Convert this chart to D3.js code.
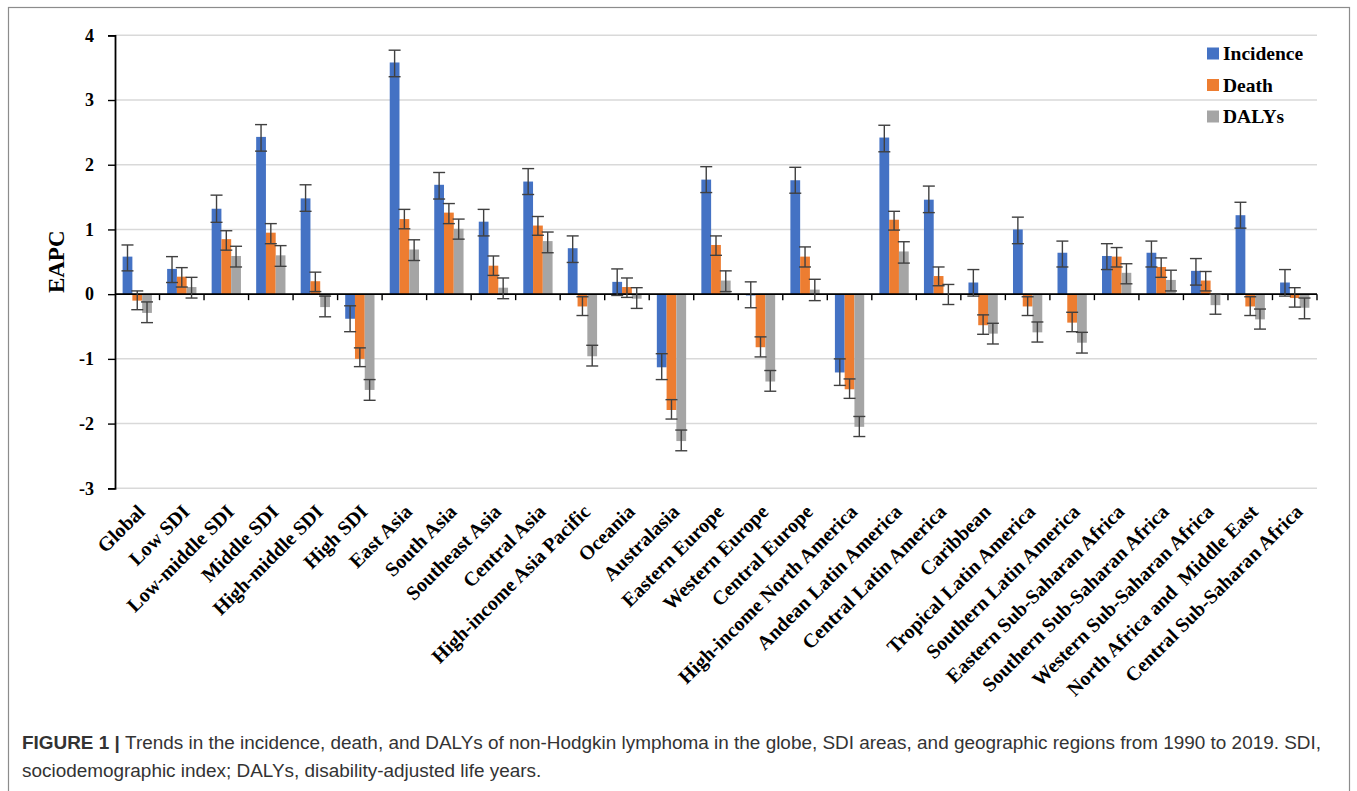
<!DOCTYPE html>
<html>
<head>
<meta charset="utf-8">
<script src="https://cdn.jsdelivr.net/npm/d3@7"></script>
<style>
  html, body { margin: 0; padding: 0; background: #fff; }
  svg { display: block; }
</style>
</head>
<body>
<svg id="chart" width="1357" height="791"></svg>
<script>
const categories = ["Global", "Low SDI", "Low-middle SDI", "Middle SDI", "High-middle SDI", "High SDI",
  "East Asia", "South Asia", "Southeast Asia", "Central Asia", "High-income Asia Pacific", "Oceania",
  "Australasia", "Eastern Europe", "Western Europe", "Central Europe", "High-income North America",
  "Andean Latin America", "Central Latin America", "Caribbean", "Tropical Latin America",
  "Southern Latin America", "Eastern Sub-Saharan Africa", "Southern Sub-Saharan Africa",
  "Western Sub-Saharan Africa", "North Africa and  Middle East", "Central Sub-Saharan Africa"];

const seriesNames = ["Incidence", "Death", "DALYs"];

const incidence = [0.58, 0.39, 1.32, 2.43, 1.48, -0.38, 3.58, 1.69, 1.12, 1.74, 0.71, 0.19, -1.13, 1.77, -0.02, 1.76, -1.21, 2.42, 1.46, 0.18, 1.00, 0.64, 0.59, 0.64, 0.36, 1.22, 0.18];
const incidenceLow = [0.36, 0.18, 1.11, 2.21, 1.28, -0.58, 3.36, 1.47, 0.90, 1.54, 0.49, -0.02, -1.32, 1.57, -0.21, 1.56, -1.41, 2.20, 1.26, -0.03, 0.78, 0.42, 0.38, 0.42, 0.14, 1.02, -0.03];
const incidenceHigh = [0.76, 0.58, 1.53, 2.62, 1.69, -0.18, 3.77, 1.88, 1.31, 1.94, 0.90, 0.39, -0.92, 1.97, 0.19, 1.96, -1.00, 2.61, 1.67, 0.38, 1.19, 0.82, 0.78, 0.82, 0.55, 1.42, 0.38];

const death = [-0.10, 0.27, 0.85, 0.95, 0.20, -1.00, 1.16, 1.26, 0.44, 1.06, -0.19, 0.11, -1.79, 0.76, -0.82, 0.58, -1.47, 1.15, 0.28, -0.48, -0.19, -0.44, 0.58, 0.42, 0.21, -0.19, -0.06];
const deathLow = [-0.24, 0.11, 0.68, 0.78, 0.04, -1.12, 1.01, 1.09, 0.29, 0.91, -0.33, -0.05, -1.93, 0.60, -0.97, 0.42, -1.61, 0.99, 0.13, -0.62, -0.33, -0.58, 0.42, 0.26, 0.05, -0.33, -0.20];
const deathHigh = [0.05, 0.41, 0.98, 1.09, 0.34, -0.83, 1.31, 1.40, 0.59, 1.20, -0.04, 0.25, -1.63, 0.90, -0.66, 0.73, -1.31, 1.28, 0.42, -0.32, -0.04, -0.28, 0.72, 0.56, 0.35, -0.04, 0.10];

const dalys = [-0.29, 0.11, 0.59, 0.60, -0.20, -1.48, 0.69, 1.01, 0.10, 0.82, -0.96, -0.07, -2.27, 0.21, -1.35, 0.07, -2.05, 0.66, -0.01, -0.61, -0.59, -0.75, 0.33, 0.22, -0.17, -0.39, -0.21];
const dalysLow = [-0.44, -0.06, 0.42, 0.43, -0.35, -1.64, 0.52, 0.85, -0.07, 0.64, -1.11, -0.22, -2.42, 0.04, -1.50, -0.10, -2.20, 0.48, -0.16, -0.77, -0.74, -0.91, 0.16, 0.05, -0.31, -0.54, -0.38];
const dalysHigh = [-0.12, 0.26, 0.74, 0.75, -0.03, -1.32, 0.84, 1.16, 0.25, 0.96, -0.79, 0.10, -2.10, 0.36, -1.18, 0.23, -1.89, 0.81, 0.15, -0.45, -0.43, -0.59, 0.47, 0.37, 0.00, -0.23, -0.06];

const yTicks = [-3, -2, -1, 0, 1, 2, 3, 4];
const yTickLabels = ["-3", "-2", "-1", "0", "1", "2", "3", "4"];
const colors = ["#4472C4", "#ED7D31", "#A5A5A5"];

const seriesData = [
  { name: seriesNames[0], values: incidence, low: incidenceLow, high: incidenceHigh },
  { name: seriesNames[1], values: death, low: deathLow, high: deathHigh },
  { name: seriesNames[2], values: dalys, low: dalysLow, high: dalysHigh }
];

const svg = d3.select("#chart");
const plot = { left: 115, right: 1317, top: 35.3, bottom: 488.3 };
const serif = "'Liberation Serif', 'Times New Roman', serif";
const sans = "'Liberation Sans', Arial, Helvetica, sans-serif";

// frame
svg.append("rect").attr("x", 8.5).attr("y", 7.5).attr("width", 1341).attr("height", 800)
  .attr("fill", "none").attr("stroke", "#8c8c8c").attr("stroke-width", 1.2);

const y = d3.scaleLinear().domain([-3, 4]).range([plot.bottom, plot.top]);
const x0 = d3.scaleBand().domain(categories).range([plot.left, plot.right]).paddingInner(0).paddingOuter(0);
const gap = x0.bandwidth() * 0.171;
const x1 = d3.scaleBand().domain(seriesNames).range([gap, x0.bandwidth() - gap]).padding(0);

// gridlines
svg.append("g").selectAll("line").data(yTicks).join("line")
  .attr("x1", plot.left).attr("x2", plot.right)
  .attr("y1", d => y(d)).attr("y2", d => y(d))
  .attr("stroke", "#d9d9d9").attr("stroke-width", 1.5);

// bars
const rows = [];
seriesData.forEach((s, si) => {
  categories.forEach((c, ci) => {
    rows.push({ cat: c, series: s.name, si, v: s.values[ci], lo: s.low[ci], hi: s.high[ci] });
  });
});

svg.append("g").selectAll("rect").data(rows).join("rect")
  .attr("x", d => x0(d.cat) + x1(d.series))
  .attr("width", x1.bandwidth())
  .attr("y", d => y(Math.max(0, d.v)))
  .attr("height", d => Math.abs(y(d.v) - y(0)))
  .attr("fill", d => colors[d.si]);

// x axis at zero with ticks at category boundaries
const xAxisG = svg.append("g");
xAxisG.append("line").attr("x1", plot.left).attr("x2", plot.right)
  .attr("y1", y(0)).attr("y2", y(0)).attr("stroke", "#000").attr("stroke-width", 1.6);
const boundaries = categories.map(c => x0(c)).concat([x0.range()[1]]).slice(1);
xAxisG.selectAll("line.tk").data(boundaries).join("line").attr("class", "tk")
  .attr("x1", d => d).attr("x2", d => d)
  .attr("y1", y(0)).attr("y2", y(0) + 6)
  .attr("stroke", "#000").attr("stroke-width", 1.4);

// error bars
const eb = svg.append("g").attr("stroke", "#404040").attr("stroke-width", 1.4).attr("fill", "none");
const capW = 6;
rows.forEach(d => {
  const cx = x0(d.cat) + x1(d.series) + x1.bandwidth() / 2;
  eb.append("line").attr("x1", cx).attr("x2", cx).attr("y1", y(d.lo)).attr("y2", y(d.hi));
  eb.append("line").attr("x1", cx - capW).attr("x2", cx + capW).attr("y1", y(d.lo)).attr("y2", y(d.lo));
  eb.append("line").attr("x1", cx - capW).attr("x2", cx + capW).attr("y1", y(d.hi)).attr("y2", y(d.hi));
});

// y axis
const yAxis = d3.axisLeft(y).tickValues(yTicks).tickSize(7).tickPadding(14)
  .tickFormat((d, i) => yTickLabels[i]);
const yg = svg.append("g").attr("transform", `translate(${plot.left},0)`).call(yAxis);
yg.select(".domain").attr("stroke", "#000").attr("stroke-width", 1.8);
yg.selectAll(".tick line").attr("stroke", "#000").attr("stroke-width", 1.4);
yg.selectAll(".tick text").attr("font-family", serif).attr("font-weight", "bold")
  .attr("font-size", 18).attr("fill", "#000");

// y title
svg.append("text").attr("transform", `translate(64,${(plot.top + plot.bottom) / 2}) rotate(-90)`)
  .attr("text-anchor", "middle").attr("font-family", serif).attr("font-weight", "bold")
  .attr("font-size", 23).attr("fill", "#000").text("EAPC");

// category labels
svg.append("g").selectAll("text").data(categories).join("text")
  .attr("transform", d => `translate(${x0(d) + x0.bandwidth() / 2 + 9},${513}) rotate(-45)`)
  .attr("text-anchor", "end")
  .attr("font-family", serif).attr("font-weight", "bold").attr("font-size", 20)
  .attr("fill", "#000")
  .style("white-space", "pre")
  .text(d => d);

// legend
const legend = svg.append("g");
seriesNames.forEach((n, i) => {
  const cy = 53.5 + i * 31.5;
  legend.append("rect").attr("x", 1207).attr("y", cy - 6).attr("width", 12).attr("height", 12).attr("fill", colors[i]);
  legend.append("text").attr("x", 1223).attr("y", cy + 6.5)
    .attr("font-family", serif).attr("font-weight", "bold").attr("font-size", 19.5).attr("fill", "#000").text(n);
});

// caption
const cap1 = svg.append("text").attr("x", 22).attr("y", 749).attr("font-family", sans).attr("font-size", 17).attr("fill", "#333");
cap1.append("tspan").attr("font-weight", "bold").text("FIGURE 1 | ");
cap1.append("tspan").text("Trends in the incidence, death, and DALYs of non-Hodgkin lymphoma in the globe, SDI areas, and geographic regions from 1990 to 2019. SDI,");
const cap2 = svg.append("text").attr("x", 22).attr("y", 777).attr("font-family", sans).attr("font-size", 17).attr("fill", "#333")
  .text("sociodemographic index; DALYs, disability-adjusted life years.");
const target = 1300;
const w1 = cap1.node().getComputedTextLength();
const fs = 17 * target / w1;
cap1.attr("font-size", fs);
cap2.attr("font-size", fs);
</script>
</body>
</html>
